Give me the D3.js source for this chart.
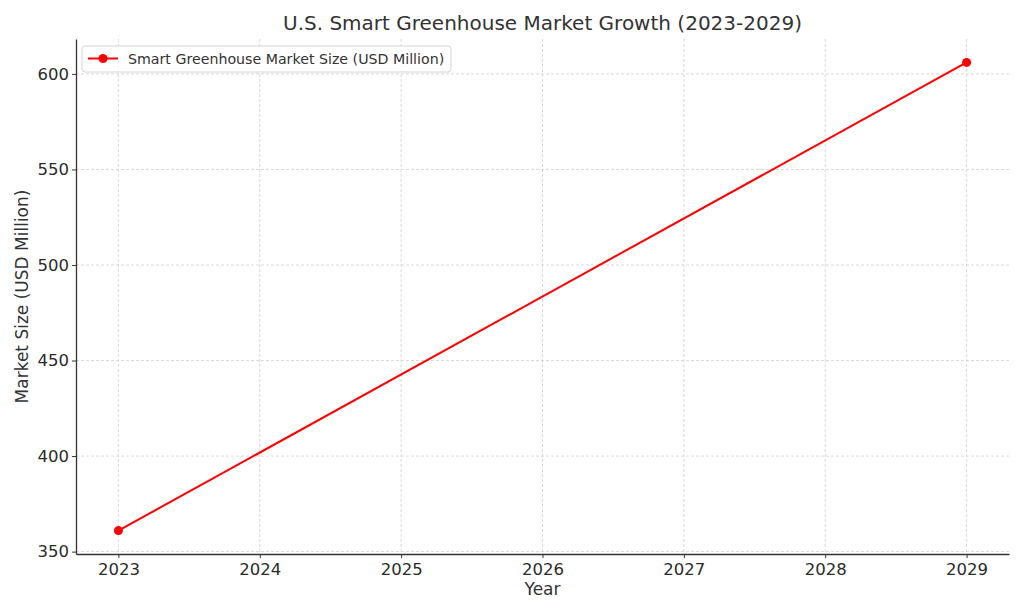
<!DOCTYPE html>
<html>
<head>
<meta charset="utf-8">
<script src="https://cdn.jsdelivr.net/npm/d3@7"></script>
<style>
  body { margin: 0; background: #fff; }
  svg { font-family: "DejaVu Sans", sans-serif; }
</style>
</head>
<body>
<svg id="chart"></svg>
<script>
const years = [2023, 2029];
const marketSize = [361, 606];
const yTicks = [350, 400, 450, 500, 550, 600];
const xTicks = [2023, 2024, 2025, 2026, 2027, 2028, 2029];

const width = 1024, height = 614;
const margin = { top: 39, right: 15, bottom: 60, left: 76 };
const chartWidth = width - margin.left - margin.right;
const chartHeight = height - margin.top - margin.bottom;

const svg = d3.select("#chart").attr("width", width).attr("height", height);

const data = years.map((y, i) => ({ year: y, value: marketSize[i] }));

// matplotlib-like 5% padding
const xPad = (d3.max(years) - d3.min(years)) * 0.05;
const yPad = (d3.max(marketSize) - d3.min(marketSize)) * 0.05;

const x = d3.scaleLinear()
  .domain([d3.min(years) - xPad, d3.max(years) + xPad])
  .range([0, chartWidth]);

const y = d3.scaleLinear()
  .domain([d3.min(marketSize) - yPad, d3.max(marketSize) + yPad])
  .range([chartHeight, 0]);

const g = svg.append("g").attr("transform", `translate(${margin.left},${margin.top})`);

// grid
g.append("g")
  .selectAll("line")
  .data(xTicks)
  .enter().append("line")
  .attr("x1", d => x(d)).attr("x2", d => x(d))
  .attr("y1", 0).attr("y2", chartHeight)
  .style("stroke", "#cfcfcf")
  .style("stroke-dasharray", "3,2")
  .style("stroke-width", 0.8);

g.append("g")
  .selectAll("line")
  .data(yTicks)
  .enter().append("line")
  .attr("x1", 0).attr("x2", chartWidth)
  .attr("y1", d => y(d)).attr("y2", d => y(d))
  .style("stroke", "#cfcfcf")
  .style("stroke-dasharray", "3,2")
  .style("stroke-width", 0.8);

// axes
const xAxis = g.append("g")
  .attr("transform", `translate(0,${chartHeight})`)
  .call(d3.axisBottom(x).tickValues(xTicks).tickFormat(d3.format("d")).tickSize(4).tickPadding(5).tickSizeOuter(0));

const yAxis = g.append("g")
  .call(d3.axisLeft(y).tickValues(yTicks).tickSize(4).tickPadding(3).tickSizeOuter(0));

[xAxis, yAxis].forEach(a => {
  a.select(".domain").style("stroke", "#333").style("stroke-width", 1.3);
  a.selectAll(".tick line").style("stroke", "#333");
  a.selectAll(".tick text")
    .style("font-size", "16.5px")
    .style("fill", "#2b2b2b")
    .style("font-family", "DejaVu Sans");
});

// line
const line = d3.line().x(d => x(d.year)).y(d => y(d.value));

g.append("path")
  .datum(data)
  .attr("d", line)
  .style("fill", "none")
  .style("stroke", "#ff0000")
  .style("stroke-width", 2);

g.selectAll(".dot")
  .data(data)
  .enter().append("circle")
  .attr("class", "dot")
  .attr("cx", d => x(d.year))
  .attr("cy", d => y(d.value))
  .attr("r", 4.5)
  .style("fill", "#ff0000");

// title + labels
svg.append("text")
  .attr("x", margin.left + chartWidth / 2)
  .attr("y", 30)
  .attr("text-anchor", "middle")
  .style("font-size", "20px")
  .style("fill", "#333")
  .text("U.S. Smart Greenhouse Market Growth (2023-2029)");

svg.append("text")
  .attr("x", margin.left + chartWidth / 2)
  .attr("y", 595)
  .attr("text-anchor", "middle")
  .style("font-size", "17px")
  .style("fill", "#333")
  .text("Year");

svg.append("text")
  .attr("transform", `translate(28,${margin.top + chartHeight / 2}) rotate(-90)`)
  .attr("text-anchor", "middle")
  .style("font-size", "17px")
  .style("fill", "#333")
  .text("Market Size (USD Million)");

// legend
const legend = svg.append("g").attr("transform", "translate(82,46)");
legend.append("rect")
  .attr("width", 369).attr("height", 26)
  .attr("rx", 3).attr("ry", 3)
  .style("fill", "#fff").style("fill-opacity", 0.8)
  .style("stroke", "#d6d6d6");
legend.append("line")
  .attr("x1", 6).attr("x2", 36).attr("y1", 12.5).attr("y2", 12.5)
  .style("stroke", "#ff0000").style("stroke-width", 2);
legend.append("circle")
  .attr("cx", 21).attr("cy", 12.5).attr("r", 4.5)
  .style("fill", "#ff0000");
legend.append("text")
  .attr("x", 46).attr("y", 17.5)
  .style("font-size", "14.2px")
  .style("fill", "#333")
  .text("Smart Greenhouse Market Size (USD Million)");
</script>
</body>
</html>
